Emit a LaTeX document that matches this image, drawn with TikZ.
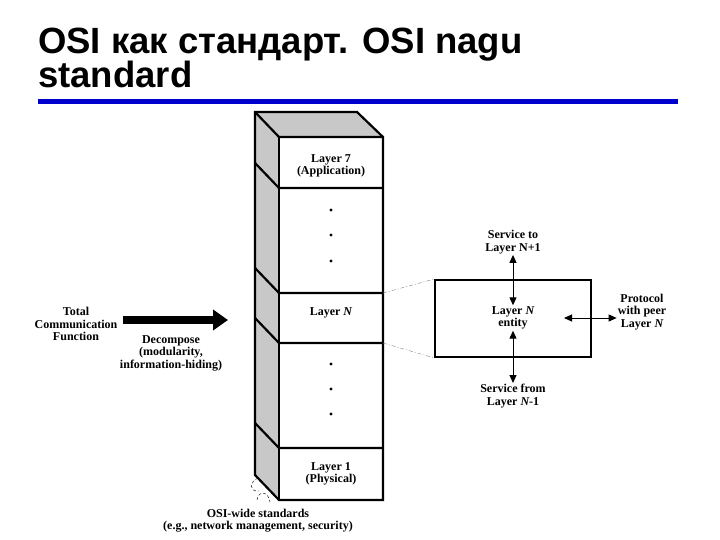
\documentclass[tikz,border=0pt]{standalone}
\usepackage{fontspec}
\setmainfont{Liberation Serif}
\newfontfamily\titlefont{Liberation Sans}
\usetikzlibrary{arrows.meta}
\definecolor{rulebl}{RGB}{0,0,204}
\definecolor{sidegray}{RGB}{200,200,200}
\tikzset{
  lbl/.style={align=center,font=\fontsize{12}{12.5}\selectfont\bfseries,inner sep=1pt},
  ttl/.style={anchor=base west,inner sep=0pt,font=\titlefont\fontsize{36.5}{36.5}\selectfont\bfseries},
  stackline/.style={line width=2.2pt,line join=miter},
  dbl/.style={{Triangle[length=8pt,width=7pt]}-{Triangle[length=8pt,width=7pt]},line width=1pt},
}

\begin{document}
\begin{tikzpicture}[x=1pt,y=-1pt]
\useasboundingbox (0,0) rectangle (720,540);
% Titel und Linie
\node[ttl] (title1) at (38,54) {OSI как стандарт. OSI nagu};
\node[ttl] (title2) at (38,88) {standard};
\draw[rulebl,line width=5pt] (38,101.5) -- (678,101.5);
% Schichtenstapel (Ecken)
\coordinate (BTL) at (255,112);
\coordinate (BTR) at (357,112);
\coordinate (BBL) at (255,475);
\coordinate (FTL) at (279,137);
\coordinate (FTR) at (383,137);
\coordinate (FBL) at (279,500);
\coordinate (FBR) at (383,500);
\coordinate (NT)  at (383,293);  % Oberkante Schicht N
\coordinate (NB)  at (383,343);  % Unterkante Schicht N
% Flaechen
\fill[sidegray] (BTL) -- (BTR) -- (FTR) -- (FTL) -- cycle;
\fill[sidegray] (BTL) -- (FTL) -- (FBL) -- (BBL) -- cycle;
\fill[white] (FTL) rectangle (FBR);
% Trennlinien der Schichten
\foreach \y in {188,293,343,448}
  \draw[stackline] (255,\y-25) -- (279,\y) -- (383,\y);
% Umriss
\draw[stackline] (BBL) -- (BTL) -- (BTR) -- (FTR) -- (FBR) -- (FBL) -- cycle;
\draw[stackline] (BTL) -- (FTL) -- (FTR);
\draw[stackline] (FTL) -- (FBL);
% Punkte
\foreach \y in {210,235,261,364,389,414} \fill (331,\y) circle (1.6);
% Schichtnamen
\node[lbl] (l7) at (331,166) {Layer 7\\(Application)};
\node[lbl] (lN) at (331,313) {Layer {\itshape N}};
\node[lbl] (l1) at (331,474) {Layer 1\\(Physical)};
% Instanz der Schicht N
\node[draw,line width=1.8pt,minimum width=156,minimum height=77] (entbox) at (513,318.5) {};
\node[lbl] (ent) at (513,318) {Layer {\itshape N}\\entity};
\draw[gray,thin,dash pattern=on 4pt off 2pt on 1pt off 2pt] (NT) -- (entbox.north west);
\draw[gray,thin,dash pattern=on 4pt off 2pt on 1pt off 2pt] (NB) -- (entbox.south west);
\node[lbl] (svcup) at (513,242) {Service to\\Layer N+1};
\node[lbl] (svcdown) at (513,396) {Service from\\Layer {\itshape N}-1};
\node[lbl] (proto) at (642,312) {Protocol\\with peer\\Layer {\itshape N}};
\coordinate (pstart) at (564,318);
\draw[dbl] (svcup) -- (ent);
\draw[dbl] (ent) -- (svcdown);
\draw[dbl] (pstart) -- (pstart -| proto.west);
% Zerlegung
\node[lbl] (tcf) at (76,324) {Total\\Communication\\Function};
\node[lbl] (decomp) at (171,353) {Decompose\\(modularity,\\information-hiding)};
\coordinate (bigtail) at (123,320);
\coordinate (bigtip) at (228,320);
\draw[line width=8pt,-{Triangle[length=15pt,width=20pt]}] (bigtail) -- (bigtip);
% OSI-weite Standards
\draw[densely dashed,thin] (258,478) .. controls (249,482) and (249,492) .. (259,491);
\draw[densely dashed,thin] (257,500) .. controls (258,491) and (268,490) .. (270,502);
\node[lbl] (osiw) at (258,520.5) {OSI-wide standards\\(e.g., network management, security)};
\end{tikzpicture}
\end{document}
